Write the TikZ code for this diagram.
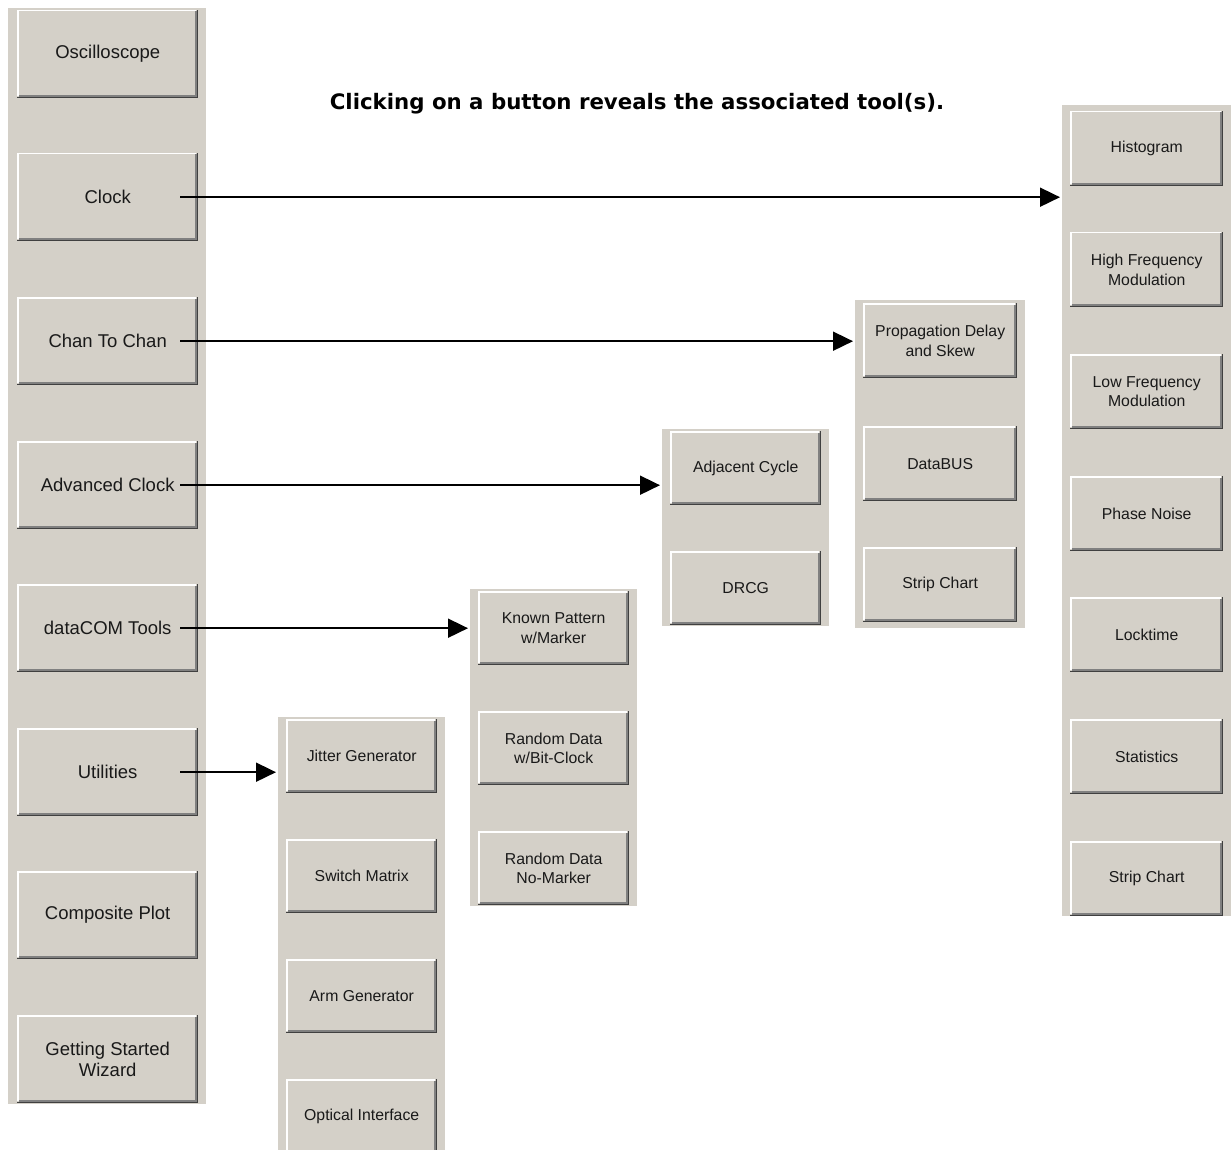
\documentclass[tikz,border=0pt]{standalone}
\usepackage{fontspec}
\setmainfont{Liberation Sans}
\newfontfamily\titlefont{DejaVu Sans}
\usetikzlibrary{arrows.meta}
\definecolor{face}{HTML}{D4D0C8}
\definecolor{shadowdark}{HTML}{404040}
\definecolor{shadowgray}{HTML}{808080}
\tikzset{
  panel/.style={fill=face, draw=none, inner sep=0pt, anchor=north west},
  btn/.style={fill=face, draw=none, inner sep=0pt, anchor=north west, align=center,
    font=\fontsize{15.8}{19.5}\selectfont, text=black!90},
  bigbtn/.style={btn, font=\fontsize{18.5}{21}\selectfont},
  link/.style={line width=1.8pt, -{Triangle[length=20pt,width=19pt]}, shorten >=2pt}
}
\newcommand\mybevel[1]{%
  \draw[white, line width=1.5pt] ([xshift=.75pt,yshift=2pt]#1.south west) -- ([xshift=.75pt,yshift=-.75pt]#1.north west) -- ([xshift=-2pt,yshift=-.75pt]#1.north east);
  \draw[shadowgray, line width=1.5pt] ([xshift=1.5pt,yshift=2.25pt]#1.south west) -- ([xshift=-2.25pt,yshift=2.25pt]#1.south east) -- ([xshift=-2.25pt,yshift=-1.5pt]#1.north east);
  \draw[shadowdark, line width=1.5pt] ([yshift=.75pt]#1.south west) -- ([xshift=-.75pt,yshift=.75pt]#1.south east) -- ([xshift=-.75pt]#1.north east);
}
% \mybtn[style]{name}{left}{top}{width}{height}{text}
\newcommand\mybtn[7][btn]{%
  \node[#1, minimum width=#5pt, minimum height=#6pt] (#2) at (#3,#4) {#7};
  \mybevel{#2}
}
\begin{document}
\begin{tikzpicture}[x=1pt,y=-1pt]
\useasboundingbox (0,0) rectangle (1231,1150);
\fill[white] (0,0) rectangle (1231,1150);

% panels
\node[panel, minimum width=198pt, minimum height=1096pt] (pmain) at (8,8) {};
\node[panel, minimum width=167pt, minimum height=433pt] (putil) at (278,717) {};
\node[panel, minimum width=167pt, minimum height=317pt] (pdata) at (470,589) {};
\node[panel, minimum width=167pt, minimum height=197pt] (padv) at (662,429) {};
\node[panel, minimum width=170pt, minimum height=328pt] (pchan) at (855,300) {};
\node[panel, minimum width=169pt, minimum height=811pt] (pclock) at (1062,105) {};

% title
\node[font=\titlefont\bfseries\fontsize{21.3}{24}\selectfont, text=black] (title) at (637,104) {Clicking on a button reveals the associated tool(s).};

% main buttons
\mybtn[bigbtn]{osc}{17}{10}{181}{88}{Oscilloscope}
\mybtn[bigbtn]{clock}{17}{153}{181}{88}{Clock}
\mybtn[bigbtn]{chan}{17}{297}{181}{88}{Chan To Chan}
\mybtn[bigbtn]{adv}{17}{441}{181}{88}{Advanced Clock}
\mybtn[bigbtn]{datacom}{17}{584}{181}{88}{dataCOM Tools}
\mybtn[bigbtn]{util}{17}{728}{181}{88}{Utilities}
\mybtn[bigbtn]{comp}{17}{871}{181}{88}{Composite Plot}
\mybtn[bigbtn]{wizard}{17}{1015}{181}{88}{Getting Started\\Wizard}

% utilities tools
\mybtn{jitter}{286}{719}{151}{74}{Jitter Generator}
\mybtn{switch}{286}{839}{151}{74}{Switch Matrix}
\mybtn{arm}{286}{959}{151}{74}{Arm Generator}
\mybtn{optical}{286}{1079}{151}{74}{Optical Interface}

% dataCOM tools
\mybtn{known}{478}{591}{151}{74}{Known Pattern\\w/Marker}
\mybtn{rbit}{478}{711}{151}{74}{Random Data\\w/Bit-Clock}
\mybtn{rno}{478}{831}{151}{74}{Random Data\\No-Marker}

% advanced clock tools
\mybtn{adjacent}{670}{431}{151}{74}{Adjacent Cycle}
\mybtn{drcg}{670}{551}{151}{74}{DRCG}

% chan to chan tools
\mybtn{prop}{863}{303}{154}{75}{Propagation Delay\\and Skew}
\mybtn{databus}{863}{426}{154}{75}{DataBUS}
\mybtn{strip1}{863}{547}{154}{75}{Strip Chart}

% clock tools
\mybtn{hist}{1070}{111}{153}{75}{Histogram}
\mybtn{hfm}{1070}{232}{153}{75}{High Frequency\\Modulation}
\mybtn{lfm}{1070}{354}{153}{75}{Low Frequency\\Modulation}
\mybtn{phase}{1070}{476}{153}{75}{Phase Noise}
\mybtn{lock}{1070}{597}{153}{75}{Locktime}
\mybtn{stats}{1070}{719}{153}{75}{Statistics}
\mybtn{strip2}{1070}{841}{153}{75}{Strip Chart}

% connectors
\draw[link] ([xshift=-18pt]clock.east) -- (clock.east -| pclock.west);
\draw[link] ([xshift=-18pt]chan.east) -- (chan.east -| pchan.west);
\draw[link] ([xshift=-18pt]adv.east) -- (adv.east -| padv.west);
\draw[link] ([xshift=-18pt]datacom.east) -- (datacom.east -| pdata.west);
\draw[link] ([xshift=-18pt]util.east) -- (util.east -| putil.west);
\end{tikzpicture}
\end{document}
